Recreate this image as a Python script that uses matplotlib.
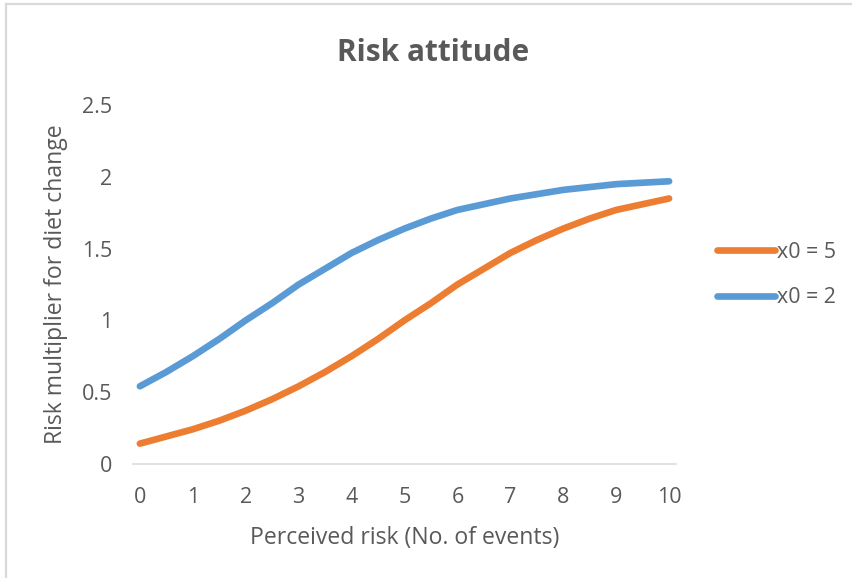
import matplotlib
matplotlib.use("Agg")
import matplotlib.pyplot as plt
from matplotlib.lines import Line2D

# perceived risk (number of events)
risk = [0, 0.5, 1, 1.5, 2, 2.5, 3, 3.5, 4, 4.5, 5,
        5.5, 6, 6.5, 7, 7.5, 8, 8.5, 9, 9.5, 10]

# risk multiplier for midpoint x0 = 5
mult_x0_5 = [0.14, 0.19, 0.24, 0.30, 0.37, 0.45, 0.54, 0.64, 0.75, 0.87, 1.00,
             1.12, 1.25, 1.36, 1.47, 1.56, 1.64, 1.71, 1.77, 1.81, 1.85]

# risk multiplier for midpoint x0 = 2
mult_x0_2 = [0.54, 0.64, 0.75, 0.87, 1.00, 1.12, 1.25, 1.36, 1.47, 1.56, 1.64,
             1.71, 1.77, 1.81, 1.85, 1.88, 1.91, 1.93, 1.95, 1.96, 1.97]

labels = ["x0 = 5", "x0 = 2"]
xticks = [0, 1, 2, 3, 4, 5, 6, 7, 8, 9, 10]
yticks = [0, 0.5, 1, 1.5, 2, 2.5]

plt.rcParams['font.family'] = ['Open Sans', 'DejaVu Sans']
grey = '#595959'

W, H = 852, 578
fig = plt.figure(figsize=(W / 100, H / 100), dpi=100)
ax = fig.add_axes([133 / W, 1 - 463.7 / H, (676 - 133) / W, (463.7 - 105.3) / H])

ax.plot(risk, mult_x0_5, color='#ED7D31', lw=4.8, solid_capstyle='round',
        solid_joinstyle='round', label=labels[0])
ax.plot(risk, mult_x0_2, color='#5B9BD5', lw=4.8, solid_capstyle='round',
        solid_joinstyle='round', label=labels[1])

ax.set_xlim(-0.13, 10.13)
ax.set_ylim(0, 2.5)
ax.set_xticks(xticks)
ax.set_yticks(yticks)
ax.set_xticklabels([str(t) for t in xticks])
ax.set_yticklabels(['0', '0.5', '1', '1.5', '2', '2.5'])
ax.tick_params(length=0, labelsize=15.5, colors=grey)
ax.tick_params(axis='y', pad=15)
ax.tick_params(axis='x', pad=16.5)

for s in ['left', 'top', 'right']:
    ax.spines[s].set_visible(False)
ax.spines['bottom'].set_color('#D9D9D9')
ax.spines['bottom'].set_linewidth(1.1)

ax.set_xlabel('Perceived risk (No. of events)', fontsize=16.6, color=grey, labelpad=13)
ax.set_ylabel('Risk multiplier for diet change', fontsize=16.6, color=grey, labelpad=10)

fig.text(433 / W, 1 - 53 / H, 'Risk attitude', fontsize=21.5, fontweight='bold',
         color=grey, ha='center', va='center')

leg = ax.legend(loc='center left', bbox_to_anchor=(717 / W, 1 - 275 / H),
                bbox_transform=fig.transFigure, frameon=False, fontsize=15.4,
                handlelength=2.7, handletextpad=0.1, labelspacing=1.13,
                borderpad=0, borderaxespad=0)
for t in leg.get_texts():
    t.set_color(grey)

# chart area border (top and left edges)
border = '#D9D9D9'
fig.add_artist(Line2D([6 / W, 6 / W], [0, 1 - 4 / H], transform=fig.transFigure,
                      color=border, lw=1.6))
fig.add_artist(Line2D([6 / W, 1], [1 - 4 / H, 1 - 4 / H], transform=fig.transFigure,
                      color=border, lw=1.6))

fig.savefig('out.png', dpi=100)
